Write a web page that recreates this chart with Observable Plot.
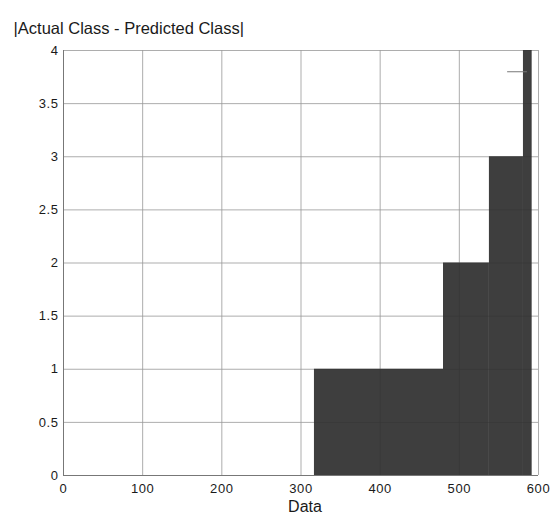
<!DOCTYPE html>
<html>
<head>
<meta charset="utf-8">
<script src="https://cdn.jsdelivr.net/npm/d3@7"></script>
<script src="https://cdn.jsdelivr.net/npm/@observablehq/plot@0.6"></script>
<style>
  html, body { margin: 0; padding: 0; background: #fff; }
  svg { display: block; }
  svg g[aria-label="x-axis tick label"], svg g[aria-label="y-axis tick label"] { letter-spacing: 0.6px; }
</style>
</head>
<body>
<div id="chart"></div>
<script>
// Step segments of the sorted |actual - predicted| values
const segStart = [317, 480, 538, 581];
const segEnd   = [480, 538, 581, 592];
const segValue = [1, 2, 3, 4];
// small horizontal marker near the top
const markerX1 = [561], markerX2 = [586], markerY = [3.8];
const xTicks = [0, 100, 200, 300, 400, 500, 600];
const yTicks = [0, 0.5, 1, 1.5, 2, 2.5, 3, 3.5, 4];
const yTickLabels = ["0", "0.5", "1", "1.5", "2", "2.5", "3", "3.5", "4"];
const title = "|Actual Class - Predicted Class|";
const xLabel = "Data";

const segs = segValue.map((v, i) => ({x1: segStart[i], x2: segEnd[i], y: v}));
const markers = markerY.map((y, i) => ({x1: markerX1[i], x2: markerX2[i], y}));

const plot = Plot.plot({
  width: 554,
  height: 519,
  marginTop: 50,
  marginBottom: 44,
  marginLeft: 63,
  marginRight: 16,
  style: {fontFamily: "Liberation Sans, Arial, sans-serif", fontSize: "13px", color: "#1a1a1a", background: "#fff"},
  x: {domain: [0, 600], ticks: xTicks, label: null, tickSize: 0, tickPadding: 9},
  y: {domain: [0, 4], ticks: yTicks, label: null, tickSize: 0, tickPadding: 5,
      tickFormat: (d) => yTickLabels[yTicks.indexOf(d)]},
  marks: [
    Plot.gridX(xTicks, {stroke: "#999", strokeOpacity: 0.8}),
    Plot.gridY(yTicks, {stroke: "#999", strokeOpacity: 0.8}),
    Plot.rectY(segs, {x1: "x1", x2: "x2", y1: 0, y2: "y", fill: "#2e2e2e", fillOpacity: 0.92}),
    Plot.ruleY(markers, {x1: "x1", x2: "x2", y: "y", stroke: "#777", strokeWidth: 1}),
    Plot.ruleX([0], {stroke: "#777"}),
    Plot.ruleY([0], {stroke: "#777"}),
    Plot.axisX({ticks: xTicks, tickSize: 0, tickPadding: 8, label: null, fontSize: 13}),
    Plot.axisY({ticks: yTicks, tickSize: 0, tickPadding: 5, label: null, fontSize: 13,
      tickFormat: (d) => yTickLabels[yTicks.indexOf(d)]}),
    Plot.text([title], {frameAnchor: "top-left", dx: -50, dy: -28, textAnchor: "start", fontSize: 16.5, fill: "#1a1a1a"}),
    Plot.text([xLabel], {frameAnchor: "bottom", dx: 4, dy: 36, fontSize: 16, fill: "#1a1a1a"})
  ]
});
document.getElementById("chart").appendChild(plot);
</script>
</body>
</html>
